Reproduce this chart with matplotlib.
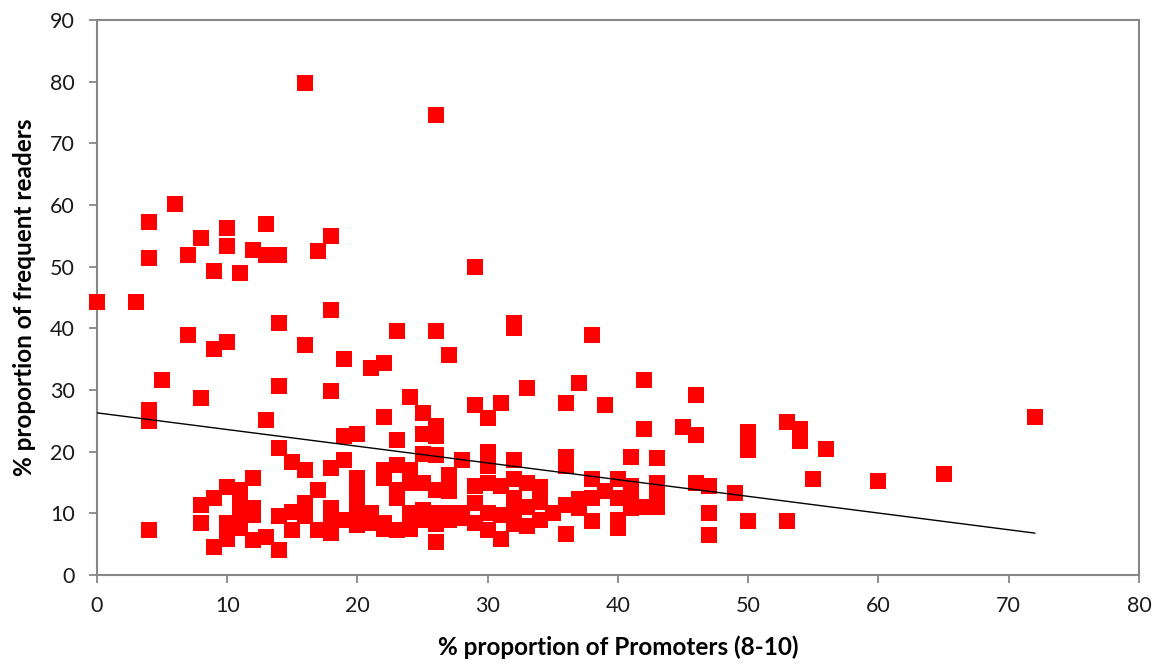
"""Scatter: frequent readers vs promoters, with linear trend line"""
from matplotlib import pyplot as plt

# promoters (%) and frequent readers (%)
promoters = [
    0, 3,
    4, 4, 4, 4, 4,
    5, 6,
    7, 7,
    8, 8, 8, 8,
    9, 9, 9, 9,
    10, 10, 10, 10, 10, 10, 10,
    11, 11, 11, 11, 11,
    12, 12, 12, 12, 12,
    13, 13, 13, 13,
    14, 14, 14, 14, 14, 14,
    15, 15, 15,
    16, 16, 16, 16, 16,
    17, 17, 17,
    18, 18, 18, 18, 18, 18, 18,
    19, 19, 19, 19,
    20, 20, 20, 20, 20, 20,
    21, 21, 21,
    22, 22, 22, 22, 22, 22,
    23, 23, 23, 23, 23, 23,
    24, 24, 24, 24, 24,
    25, 25, 25, 25, 25, 25,
    26, 26, 26, 26, 26, 26, 26, 26, 26,
    27, 27, 27, 27, 27,
    28, 28, 28,
    29, 29, 29, 29, 29,
    30, 30, 30, 30, 30, 30,
    31, 31, 31, 31,
    32, 32, 32, 32, 32, 32, 32,
    33, 33, 33, 33,
    34, 34, 34,
    35,
    36, 36, 36, 36, 36,
    37, 37, 37,
    38, 38, 38, 38,
    39, 39,
    40, 40, 40, 40,
    41, 41, 41, 41,
    42, 42, 42,
    43, 43, 43, 43,
    45,
    46, 46, 46,
    47, 47, 47,
    49,
    50, 50, 50, 50,
    53, 53,
    54, 54,
    55, 56, 60, 65, 72,
]
readers = [
    44.3, 44.3,
    57.2, 51.4, 26.7, 24.9, 7.3,
    31.7, 60.2,
    51.9, 39.0,
    54.6, 28.7, 11.4, 8.4,
    49.3, 36.7, 12.5, 4.6,
    56.2, 53.4, 37.8, 14.3, 8.4, 7.0, 5.8,
    48.9, 13.8, 11.4, 9.4, 7.6,
    52.7, 15.8, 10.8, 9.8, 5.7,
    56.9, 51.9, 25.1, 6.2,
    51.9, 40.8, 30.6, 20.6, 9.5, 4.0,
    18.4, 10.3, 7.3,
    79.8, 37.3, 17.0, 11.6, 9.5,
    52.5, 13.8, 7.3,
    55.0, 42.9, 29.8, 17.3, 10.8, 9.0, 6.8,
    35.0, 22.5, 18.7, 8.9,
    22.8, 15.7, 13.3, 11.4, 9.5, 8.1,
    33.6, 10.0, 8.4,
    34.4, 25.6, 17.0, 15.8, 8.5, 7.5,
    39.6, 21.9, 17.9, 13.8, 12.5, 7.3,
    28.8, 17.0, 14.9, 10.0, 7.5,
    26.3, 22.9, 19.7, 15.0, 10.5, 9.0,
    74.6, 39.6, 24.1, 22.5, 19.5, 13.8, 10.0, 8.3, 5.3,
    35.6, 16.2, 13.6, 10.0, 9.0,
    18.7, 10.0, 9.2,
    50.0, 27.6, 14.4, 11.6, 8.4,
    25.5, 20.0, 17.6, 15.0, 10.0, 7.3,
    27.9, 14.4, 9.8, 5.8,
    40.9, 40.1, 18.7, 15.5, 12.5, 10.3, 8.3,
    30.3, 14.9, 11.0, 8.0,
    14.2, 11.9, 9.0,
    10.0,
    27.9, 19.1, 17.6, 11.4, 6.7,
    31.1, 12.4, 10.8,
    38.9, 15.6, 12.5, 8.7,
    27.6, 13.6,
    15.6, 12.5, 8.9, 7.6,
    19.2, 14.5, 12.5, 10.9,
    31.7, 23.7, 11.0,
    19.0, 14.9, 12.5, 11.1,
    24.0,
    29.2, 22.7, 14.9,
    14.4, 10.0, 6.5,
    13.3,
    23.2, 21.5, 20.3, 8.7,
    24.8, 8.8,
    23.7, 21.7,
    15.6, 20.4, 15.2, 16.4, 25.6,
]

# linear trend line as drawn (end points)
trend_x = [0, 72]
trend_y = [26.3, 6.8]

xticks = list(range(0, 81, 10))
yticks = list(range(0, 91, 10))

plt.rcParams['font.family'] = ['Lato', 'DejaVu Sans']

fig = plt.figure(figsize=(11.59, 6.66), dpi=100)
ax = fig.add_axes([0.0837, 0.1366, 0.899, 0.8333])

# markers are not clipped at the axes edge (point at x=0 shows whole)
ax.plot(promoters, readers, 's', color='#ff0000', markersize=11.5,
        markeredgewidth=0, zorder=3, clip_on=False)
ax.plot(trend_x, trend_y, '-', color='black', linewidth=1.0, zorder=4)

ax.set_xlim(0, 80)
ax.set_ylim(0, 90)
ax.set_xticks(xticks)
ax.set_yticks(yticks)

grey = '#878787'
for s in ax.spines.values():
    s.set_color(grey)
    s.set_linewidth(1.5)
ax.tick_params(direction='out', length=6, width=1.3, color=grey,
               labelsize=15.5, labelcolor='#1a1a1a')
ax.tick_params(axis='x', pad=9)
ax.tick_params(axis='y', pad=10)

ax.set_xlabel('% proportion of Promoters (8-10)', fontsize=17.5,
              fontweight='bold', labelpad=14)
ax.set_ylabel('% proportion of frequent readers', fontsize=17.5,
              fontweight='bold', labelpad=10)

fig.savefig('out.png', dpi=100)
